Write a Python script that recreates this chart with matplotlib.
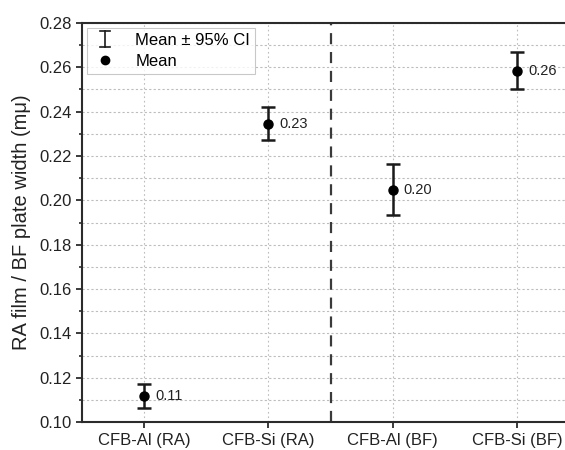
import matplotlib
matplotlib.use("Agg")
import matplotlib.pyplot as plt
from matplotlib.ticker import MultipleLocator, FormatStrFormatter
from matplotlib.lines import Line2D
from matplotlib.legend_handler import HandlerBase
import numpy as np

categories = ["CFB-Al (RA)", "CFB-Si (RA)", "CFB-Al (BF)", "CFB-Si (BF)"]
means = [0.1117, 0.2346, 0.2047, 0.2585]
ci_low = [0.1062, 0.2271, 0.1934, 0.2502]
ci_high = [0.1171, 0.2420, 0.2162, 0.2669]
value_labels = ["0.11", "0.23", "0.20", "0.26"]

plt.rcParams["font.family"] = ["Liberation Sans", "DejaVu Sans"]
dark = "#2b2b2b"
text_col = "#222222"


class HandlerCI(HandlerBase):
    """Legend glyph: a vertical bar with caps, like an error bar."""

    def create_artists(self, legend, orig_handle, xdescent, ydescent,
                       width, height, fontsize, trans):
        cx = width / 2 - xdescent
        y0 = -ydescent - 0.2 * height
        y1 = -ydescent + 1.2 * height
        cw = 0.18 * width
        kw = dict(color="#1a1a1a", linewidth=1.2, transform=trans)
        return [Line2D([cx, cx], [y0, y1], **kw),
                Line2D([cx - cw, cx + cw], [y0, y0], **kw),
                Line2D([cx - cw, cx + cw], [y1, y1], **kw)]


fig = plt.figure(figsize=(5.65, 4.5), dpi=100)
ax = fig.add_axes([0.145, 0.062, 0.88, 0.887])

x = np.arange(1, len(categories) + 1)
means_a = np.array(means)
yerr = np.vstack([means_a - np.array(ci_low), np.array(ci_high) - means_a])

ax.errorbar(x, means_a, yerr=yerr, fmt="none", ecolor="#1a1a1a",
            elinewidth=1.8, capsize=4.8, capthick=1.8, zorder=3)
ax.plot(x, means_a, "o", color="black", markersize=6.5, zorder=4)

for xi, yi, lab in zip(x, means_a, value_labels):
    ax.annotate(lab, (xi, yi), xytext=(8, 0), textcoords="offset points",
                ha="left", va="center", fontsize=10.5, color=text_col)

ax.axvline(2.5, color="#3a3a3a", linestyle=(0, (5, 3.5)), linewidth=1.6, zorder=2)

ax.set_xlim(0.5, 4.5)
ax.set_ylim(0.10, 0.28)
ax.set_xticks(x)
ax.set_xticklabels(categories)
ax.yaxis.set_major_locator(MultipleLocator(0.02))
ax.yaxis.set_minor_locator(MultipleLocator(0.01))
ax.yaxis.set_major_formatter(FormatStrFormatter("%.2f"))

ax.grid(True, which="both", axis="y", linestyle=(0, (2, 2)), color="#bdbdbd", linewidth=0.8)
ax.grid(True, which="major", axis="x", linestyle=(0, (1.5, 2.5)), color="#bdbdbd", linewidth=0.8)
ax.set_axisbelow(True)

for side in ["left", "bottom", "top"]:
    ax.spines[side].set_color(dark)
    ax.spines[side].set_linewidth(1.5)
ax.spines["right"].set_visible(False)

ax.tick_params(axis="both", which="major", direction="out", length=4.5, width=1.3,
               color=dark, labelsize=12, labelcolor=text_col, pad=3)
ax.tick_params(axis="y", which="minor", direction="out", length=2.5, width=1.2, color=dark)
ax.tick_params(axis="x", which="minor", bottom=False)

ax.set_ylabel("RA film / BF plate width (mμ)", fontsize=14.5, color=text_col, labelpad=6)

ci_handle = object()
mean_handle = Line2D([], [], marker="o", linestyle="none", color="black", markersize=6)
leg = ax.legend([ci_handle, mean_handle], ["Mean ± 95% CI", "Mean"],
                loc="upper left", bbox_to_anchor=(0.0, 1.0), fontsize=12,
                frameon=True, fancybox=False, edgecolor="#bbbbbb",
                handlelength=1.6, handletextpad=1.0, borderpad=0.3,
                labelspacing=0.35, borderaxespad=0.3,
                handler_map={type(ci_handle): HandlerCI()})
leg.get_frame().set_linewidth(0.8)

fig.savefig("out.png", dpi=100)
